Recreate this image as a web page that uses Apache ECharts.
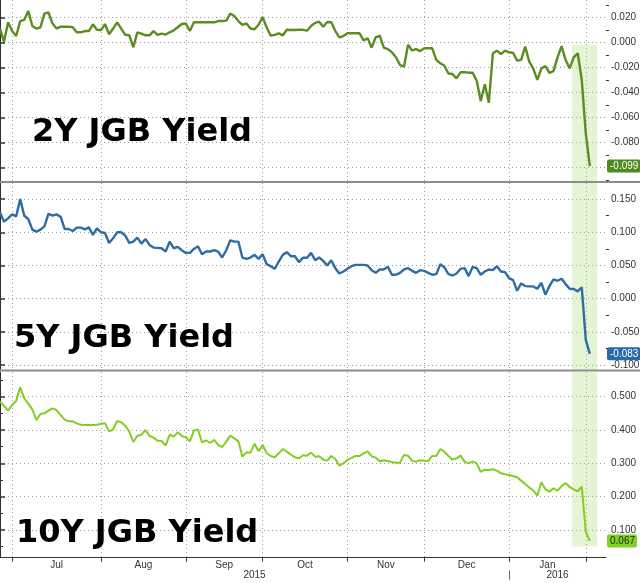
<!DOCTYPE html>
<html><head><meta charset="utf-8">
<script src="https://cdn.jsdelivr.net/npm/echarts@6/dist/echarts.min.js"></script>
<style>html,body{margin:0;padding:0;background:#fff}#c{width:640px;height:583px}</style>
</head><body><div id="c"></div>
<script>
// ---- data: one value per trading day (index 0 = late Jun 2015) ----
const jgb2y = [0.011,0.0005,0.016,0.009,0.005,0.017,0.018,0.025,0.013,0.011,
0.012,0.023,0.024,0.015,0.011,0.0125,0.0125,0.0125,0.012,0.008,
0.008,0.009,0.009,0.0144,0.010,0.0098,0.0146,0.0064,0.011,0.016,
0.011,0.006,0.0056,-0.004,0.008,0.007,0.0056,0.0056,0.009,0.006,
0.007,0.0062,0.008,0.0095,0.012,0.0146,0.015,0.009,0.016,0.016,
0.016,0.016,0.016,0.016,0.017,0.017,0.0173,0.023,0.021,0.017,
0.014,0.015,0.011,0.0104,0.014,0.020,0.012,0.0053,0.006,0.0072,
0.0056,0.010,0.0098,0.0098,0.010,0.010,0.0093,0.013,0.0155,0.0165,
0.0125,0.0162,0.016,0.009,0.004,0.005,0.0072,0.0072,0.0072,0.0072,
0.0015,0.0032,-0.0043,0.004,0.0053,-0.0043,-0.0055,-0.008,-0.012,-0.018,
-0.0195,-0.002,-0.0065,-0.0054,-0.007,-0.0048,-0.0048,-0.0048,-0.014,-0.0168,
-0.0187,-0.025,-0.0254,-0.0288,-0.024,-0.024,-0.0243,-0.0243,-0.0307,-0.047,
-0.0336,-0.0483,-0.0088,-0.0067,-0.0094,-0.0067,-0.008,-0.0085,-0.0147,-0.0141,
-0.0035,-0.0155,-0.021,-0.030,-0.021,-0.019,-0.0245,-0.023,-0.012,-0.003,
-0.0142,-0.0208,-0.012,-0.0088,-0.030,-0.073,-0.099];

const jgb5y = [0.130,0.116,0.121,0.127,0.124,0.150,0.125,0.120,0.104,0.101,
0.104,0.109,0.128,0.125,0.127,0.1235,0.105,0.105,0.102,0.107,
0.107,0.1045,0.1075,0.096,0.106,0.100,0.099,0.084,0.091,0.100,
0.100,0.095,0.084,0.086,0.092,0.083,0.090,0.081,0.077,0.0765,
0.076,0.071,0.086,0.076,0.078,0.073,0.069,0.069,0.075,0.079,
0.067,0.071,0.071,0.073,0.071,0.062,0.073,0.088,0.086,0.086,
0.062,0.060,0.062,0.066,0.060,0.067,0.052,0.049,0.045,0.056,
0.066,0.070,0.064,0.064,0.055,0.0617,0.0617,0.069,0.058,0.062,
0.057,0.050,0.058,0.046,0.038,0.041,0.045,0.049,0.051,0.051,
0.051,0.050,0.043,0.039,0.044,0.044,0.048,0.036,0.036,0.039,
0.044,0.046,0.042,0.039,0.043,0.042,0.039,0.036,0.037,0.052,
0.047,0.037,0.035,0.038,0.045,0.046,0.034,0.048,0.046,0.036,
0.041,0.044,0.043,0.049,0.041,0.040,0.031,0.028,0.012,0.023,
0.019,0.0185,0.0185,0.015,0.024,0.006,0.019,0.029,0.027,0.030,
0.022,0.015,0.0146,0.011,0.017,-0.062,-0.083];

const jgb10y = [0.485,0.472,0.458,0.475,0.488,0.528,0.495,0.479,0.462,0.430,
0.448,0.450,0.458,0.465,0.460,0.445,0.431,0.426,0.426,0.420,
0.416,0.415,0.415,0.415,0.416,0.419,0.420,0.396,0.402,0.427,
0.423,0.413,0.395,0.364,0.383,0.386,0.400,0.382,0.377,0.368,
0.367,0.353,0.386,0.380,0.393,0.382,0.378,0.366,0.398,0.402,
0.363,0.369,0.361,0.370,0.355,0.349,0.365,0.383,0.375,0.366,
0.320,0.333,0.332,0.359,0.336,0.355,0.331,0.322,0.318,0.330,
0.343,0.335,0.326,0.318,0.315,0.324,0.323,0.332,0.320,0.321,
0.311,0.308,0.322,0.313,0.293,0.300,0.310,0.316,0.322,0.322,
0.330,0.336,0.321,0.317,0.306,0.309,0.307,0.304,0.302,0.302,
0.325,0.323,0.307,0.305,0.309,0.308,0.307,0.322,0.322,0.343,
0.335,0.322,0.311,0.315,0.323,0.305,0.300,0.306,0.300,0.274,
0.281,0.280,0.282,0.278,0.270,0.267,0.265,0.262,0.258,0.248,
0.238,0.227,0.219,0.203,0.243,0.222,0.215,0.225,0.218,0.231,
0.241,0.229,0.222,0.216,0.230,0.095,0.067];

const monthNames = ['Jul','Aug','Sep','Oct','Nov','Dec','Jan'];
const monthStarts = [3,25,46,65,86,105,126,145];   // trading-day index of month start
const yearNames = ['2015','2016'];
const yearBounds = [0,126,150];
const dayCount = 150;
const highlightDays = [141.6,147.8];

const ticks2y = [-0.10,-0.08,-0.06,-0.04,-0.02,0,0.02];
const labels2y = [-0.08,-0.06,-0.04,-0.02,0,0.02];
const minor2y = [-0.11,-0.09,-0.07,-0.05,-0.03,-0.01,0.01,0.03];
const ticks5y = [-0.10,-0.05,0,0.05,0.10,0.15];
const minor5y = [-0.075,-0.025,0.025,0.075,0.125];
const ticks10y = [0.1,0.2,0.3,0.4,0.5];
const minor10y = [0.05,0.15,0.25,0.35,0.45,0.55];
const titles = ['2Y JGB Yield','5Y JGB Yield','10Y JGB Yield'];

// ---- layout / style ----
const narrow = '"Liberation Sans Narrow","Liberation Sans",Arial,sans-serif';
const panels = [
  {top:0,   height:181,   min:-0.11096, max:0.03384, ticks:ticks2y, labels:labels2y, minor:minor2y,
   data:jgb2y, color:'#5b8d22', width:2.4, boxBg:'#4f8a1c', boxFg:'#fff', band:[null,-0.002],
   title:{left:32, top:117}},
  {top:183, height:186.5, min:-0.10663, max:0.17425, ticks:ticks5y, labels:ticks5y, minor:minor5y,
   data:jgb5y, color:'#2f6ca3', width:2.4, boxBg:'#2a68ad', boxFg:'#fff', band:[null,null],
   title:{left:14, top:323}},
  {top:372, height:185.7, min:0.01652, max:0.57420, ticks:ticks10y, labels:ticks10y, minor:minor10y,
   data:jgb10y, color:'#84cd25', width:2, boxBg:'#7fd123', boxFg:'#1b2a0a', band:[0.05,null],
   title:{left:16, top:518}}
];

const monthMids = monthNames.map((m,i)=>(monthStarts[i]+monthStarts[i+1])/2);
const yearMids = yearNames.map((y,i)=>(yearBounds[i]+yearBounds[i+1])/2);
const nearest = (arr,v)=>{let b=0;arr.forEach((a,i)=>{if(Math.abs(a-v)<Math.abs(arr[b]-v))b=i;});return b;};
const dotted = {type:[1,3], color:'#9a9a9a', width:1};

const grid=[], xAxis=[], yAxis=[], series=[], title=[];
panels.forEach((p,i)=>{
  grid.push({left:0, right:34, top:p.top, height:p.height, outerBoundsMode:'none', containLabel:false});
  const last = p.data[p.data.length-1];
  xAxis.push({
    type:'value', gridIndex:i, min:0, max:dayCount, position:'bottom',
    axisLine:{show:i===2, onZero:false, lineStyle:{color:'#333'}},
    axisTick:{show:i===2, customValues:monthStarts, length:4, lineStyle:{color:'#333'}},
    axisLabel: i===2 ? {customValues:monthMids, formatter:v=>monthNames[nearest(monthMids,v)],
      color:'#333', fontSize:10, fontFamily:narrow, margin:3} : {show:false},
    splitLine:{show:true, lineStyle:dotted}
  });
  yAxis.push({
    type:'value', gridIndex:i, position:'right', min:p.min, max:p.max,
    axisLine:{show:true, lineStyle:{color:'#333'}},
    axisTick:{show:true, customValues:p.ticks, length:5, lineStyle:{color:'#333', width:1.5}},
    axisLabel:{customValues:p.labels, formatter:v=>v.toFixed(3), color:'#333', fontSize:10, fontFamily:narrow, margin:5},
    splitLine:{show:true, lineStyle:dotted}
  });
  yAxis.push({
    type:'value', gridIndex:i, position:'right', min:p.min, max:p.max,
    axisLine:{show:false},
    axisTick:{show:true, customValues:p.minor, length:3, lineStyle:{color:'#333'}},
    axisLabel:{customValues:[last], formatter:v=>v.toFixed(3), color:p.boxFg, backgroundColor:p.boxBg,
      fontSize:10, fontFamily:narrow, margin:1, padding:[2,2,1,3], borderRadius:2},
    splitLine:{show:false}
  });
  series.push({
    type:'line', xAxisIndex:i, yAxisIndex:i*2, showSymbol:false, silent:true,
    lineStyle:{color:p.color, width:p.width}, itemStyle:{color:p.color},
    data:p.data.map((v,k)=>[k,v]),
    markArea:{silent:true, itemStyle:{color:'rgba(170,222,120,0.32)'},
      data:[[{xAxis:highlightDays[0], yAxis:p.band[1]===null?p.max:p.band[1]},
             {xAxis:highlightDays[1], yAxis:p.band[0]===null?p.min:p.band[0]}]]}
  });
  title.push({text:titles[i], left:p.title.left, top:p.title.top, padding:0,
    textStyle:{fontSize:32, fontWeight:'bold', fontFamily:'DejaVu Sans', color:'#000'}});
});
// year row
xAxis.push({
  type:'value', gridIndex:2, min:0, max:dayCount, position:'bottom', offset:13,
  axisLine:{show:false},
  axisTick:{show:true, customValues:yearBounds.slice(1,-1), length:9, lineStyle:{color:'#666'}},
  axisLabel:{customValues:yearMids, formatter:v=>yearNames[nearest(yearMids,v)], color:'#333', fontSize:10, fontFamily:narrow, margin:0},
  splitLine:{show:false}
});

const chart = echarts.init(document.getElementById('c'));
chart.setOption({
  animation:false, backgroundColor:'#fff',
  title, grid, xAxis, yAxis, series,
  graphic:[
    {type:'rect', left:0, top:181, shape:{width:640, height:2}, style:{fill:'#8c8c8c'}, z:100},
    {type:'rect', left:0, top:369.5, shape:{width:640, height:2}, style:{fill:'#8c8c8c'}, z:100}
  ]
});
</script></body></html>
